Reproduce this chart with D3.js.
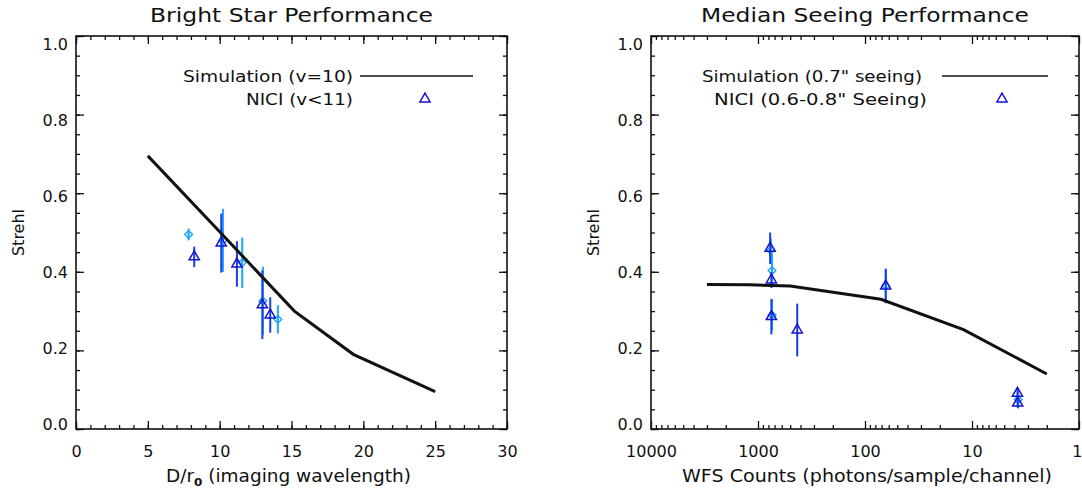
<!DOCTYPE html>
<html>
<head>
<meta charset="utf-8">
<script src="https://cdn.jsdelivr.net/npm/d3@7"></script>
<style>
  body { margin: 0; background: #fff; }
  svg { display: block; }
  text { font-family: "DejaVu Sans", sans-serif; fill: #111; }
</style>
</head>
<body>
<svg id="chart" width="1082" height="491"></svg>
<script>
// ---- left panel: bright star performance ----
var simDr0 = [5, 10, 15.2, 19.3, 25];
var simDr0Strehl = [0.695, 0.502, 0.30, 0.19, 0.095];

var niciDr0 = [8.23, 10.11, 11.2, 12.97, 13.52];
var niciDr0Strehl = [0.438, 0.473, 0.42, 0.316, 0.29];
var niciDr0Err = [0.026, 0.075, 0.058, 0.087, 0.045];

var altDr0 = [7.84, 10.23, 11.57, 13.01, 14.05];
var altDr0Strehl = [0.495, 0.48, 0.423, 0.326, 0.279];
var altDr0Err = [0.015, 0.08, 0.064, 0.087, 0.036];

// ---- right panel: median seeing performance ----
var simCounts = [3000, 1200, 500, 71, 12, 2];
var simCountsStrehl = [0.368, 0.367, 0.364, 0.33, 0.253, 0.14];

var niciCounts = [770, 750, 750, 430, 64, 3.76, 3.74];
var niciCountsStrehl = [0.46, 0.379, 0.286, 0.252, 0.364, 0.091, 0.066];
var niciCountsErr = [0.04, 0.02, 0.045, 0.067, 0.044, 0.012, 0.012];

var altCounts = [760, 740, 740, 64, 3.7];
var altCountsStrehl = [0.455, 0.403, 0.29, 0.364, 0.075];
var altCountsErr = [0.03, 0.043, 0.04, 0.04, 0.023];

var strehlTicks = [0, 0.2, 0.4, 0.6, 0.8, 1.0];
var dr0Ticks = [0, 5, 10, 15, 20, 25, 30];
var countTicks = [10000, 1000, 100, 10, 1];

var darkBlue = "#1414cc", barBlue = "#1a3ee6", lightBlue = "#1ea6ff";

var svg = d3.select("#chart");

function zip(xs, ys, es) {
  return xs.map(function(x, i) { return { x: x, y: ys[i], e: es ? es[i] : 0 }; });
}

function drawPanel(p) {
  var g = svg.append("g");
  var x = p.x, y = p.y;
  var top = y.range()[1], bottom = y.range()[0];
  var left = x.range()[0], right = x.range()[1];

  // minor ticks (no labels)
  g.append("g").attr("transform", "translate(0," + bottom + ")")
    .call(d3.axisBottom(x).tickValues(p.xMinor).tickSize(-4).tickFormat(""));
  g.append("g").attr("transform", "translate(0," + top + ")")
    .call(d3.axisTop(x).tickValues(p.xMinor).tickSize(-4).tickFormat(""));
  g.append("g").attr("transform", "translate(" + left + ",0)")
    .call(d3.axisLeft(y).tickValues(d3.range(0, 1.0001, 0.05)).tickSize(-4).tickFormat(""));
  g.append("g").attr("transform", "translate(" + right + ",0)")
    .call(d3.axisRight(y).tickValues(d3.range(0, 1.0001, 0.05)).tickSize(-4).tickFormat(""));

  // major ticks
  var xa = g.append("g").attr("transform", "translate(0," + bottom + ")")
    .call(d3.axisBottom(x).tickValues(p.xMajor).tickSize(-8).tickPadding(17).tickFormat(p.xFormat));
  g.append("g").attr("transform", "translate(0," + top + ")")
    .call(d3.axisTop(x).tickValues(p.xMajor).tickSize(-8).tickFormat(""));
  var ya = g.append("g").attr("transform", "translate(" + left + ",0)")
    .call(d3.axisLeft(y).tickValues(strehlTicks).tickSize(-8).tickPadding(8).tickFormat(d3.format(".1f")));
  g.append("g").attr("transform", "translate(" + right + ",0)")
    .call(d3.axisRight(y).tickValues(strehlTicks).tickSize(-8).tickFormat(""));

  g.selectAll(".domain").remove();
  g.selectAll(".tick line").attr("stroke", "#111").attr("stroke-width", 1.3);
  g.selectAll(".tick text").style("font-size", "16px").attr("fill", "#111");
  // labels sit a little inside the frame at both ends, as in the original
  ya.selectAll(".tick text").attr("y", function(v) { return -5 + 13 * v; });
  if (p.lastLabelEnd) {
    xa.selectAll(".tick text").filter(function(v, i, n) { return i === n.length - 1; })
      .attr("text-anchor", "end").attr("x", 3);
  }

  // frame
  g.append("rect").attr("x", left).attr("y", top)
    .attr("width", right - left).attr("height", bottom - top)
    .attr("fill", "none").attr("stroke", "#111").attr("stroke-width", 1.6);

  // title + axis labels
  g.append("text").attr("x", (left + right) / 2).attr("y", 22)
    .attr("text-anchor", "middle").style("font-size", "20px")
    .attr("textLength", p.titleLen).attr("lengthAdjust", "spacingAndGlyphs").text(p.title);
  var xl = g.append("text").attr("x", (left + right) / 2 + p.xLabelShift).attr("y", 482)
    .attr("text-anchor", "middle").style("font-size", "17px")
    .attr("textLength", p.xLabelLen).attr("lengthAdjust", "spacingAndGlyphs");
  p.xLabel(xl);
  g.append("text").attr("transform", "translate(" + (left - 52) + "," + ((top + bottom) / 2) + ") rotate(-90)")
    .attr("text-anchor", "middle").style("font-size", "16px").text("Strehl");

  // light blue measurements (error bars + diamonds)
  var alt = g.append("g");
  alt.selectAll("line").data(p.alt).enter().append("line")
    .attr("x1", function(d) { return x(d.x); }).attr("x2", function(d) { return x(d.x); })
    .attr("y1", function(d) { return y(d.y - d.e); }).attr("y2", function(d) { return y(d.y + d.e); })
    .attr("stroke", lightBlue).attr("stroke-width", 2);
  alt.selectAll("path").data(p.alt).enter().append("path")
    .attr("d", d3.symbol(d3.symbolSquare, 30))
    .attr("transform", function(d) { return "translate(" + x(d.x) + "," + y(d.y) + ") rotate(45)"; })
    .attr("fill", "none").attr("stroke", lightBlue).attr("stroke-width", 1.4);

  // NICI measurements (error bars + triangles)
  var nici = g.append("g");
  nici.selectAll("line").data(p.nici).enter().append("line")
    .attr("x1", function(d) { return x(d.x); }).attr("x2", function(d) { return x(d.x); })
    .attr("y1", function(d) { return y(d.y - d.e); }).attr("y2", function(d) { return y(d.y + d.e); })
    .attr("stroke", barBlue).attr("stroke-width", 2);
  nici.selectAll("path").data(p.nici).enter().append("path")
    .attr("d", d3.symbol(d3.symbolTriangle, 45))
    .attr("transform", function(d) { return "translate(" + x(d.x) + "," + y(d.y) + ")"; })
    .attr("fill", "none").attr("stroke", darkBlue).attr("stroke-width", 1.5);

  // simulation curve
  g.append("path").datum(p.sim)
    .attr("d", d3.line().x(function(d) { return x(d.x); }).y(function(d) { return y(d.y); }))
    .attr("fill", "none").attr("stroke", "#111").attr("stroke-width", 3);

  // legend
  var lg = p.legend;
  g.append("text").attr("x", lg.textX).attr("y", 82).attr("text-anchor", "end")
    .style("font-size", "16px").attr("textLength", lg.simLen).attr("lengthAdjust", "spacingAndGlyphs")
    .text(lg.simText);
  g.append("line").attr("x1", lg.lineX1).attr("x2", lg.lineX2).attr("y1", 76).attr("y2", 76)
    .attr("stroke", "#111").attr("stroke-width", 1.5);
  g.append("text").attr("x", lg.textX + lg.niciShift).attr("y", 105).attr("text-anchor", "end")
    .style("font-size", "16px").attr("textLength", lg.niciLen).attr("lengthAdjust", "spacingAndGlyphs")
    .text(lg.niciText);
  g.append("path").attr("d", d3.symbol(d3.symbolTriangle, 45))
    .attr("transform", "translate(" + lg.markX + ",99)")
    .attr("fill", "none").attr("stroke", darkBlue).attr("stroke-width", 1.5);
}

var yStrehl = d3.scaleLinear().domain([0, 1]).range([429, 36]);

drawPanel({
  x: d3.scaleLinear().domain([0, 30]).range([76, 507]),
  y: yStrehl,
  xMajor: dr0Ticks,
  xMinor: d3.range(0, 31, 1),
  xFormat: d3.format("d"),
  title: "Bright Star Performance",
  titleLen: 283,
  xLabelLen: 245,
  xLabelShift: -3,
  xLabel: function(t) {
    t.append("tspan").text("D/r");
    t.append("tspan").attr("dy", 4).style("font-size", "11px").style("font-weight", "bold").text("0");
    t.append("tspan").attr("dy", -4).text(" (imaging wavelength)");
  },
  sim: zip(simDr0, simDr0Strehl),
  nici: zip(niciDr0, niciDr0Strehl, niciDr0Err),
  alt: zip(altDr0, altDr0Strehl, altDr0Err),
  legend: { textX: 353, niciShift: 0, lineX1: 360, lineX2: 473, markX: 425,
            simLen: 170, niciLen: 107,
            simText: "Simulation (v=10)", niciText: "NICI (v<11)" }
});

var countMinor = [];
[1, 10, 100, 1000].forEach(function(k) {
  d3.range(2, 10).forEach(function(m) { countMinor.push(m * k); });
});

drawPanel({
  x: d3.scaleLog().domain([10000, 1]).range([651, 1079]),
  y: yStrehl,
  xMajor: countTicks,
  xMinor: countMinor,
  xFormat: d3.format("d"),
  lastLabelEnd: true,
  title: "Median Seeing Performance",
  titleLen: 328,
  xLabelLen: 370,
  xLabelShift: 2,
  xLabel: function(t) { t.text("WFS Counts (photons/sample/channel)"); },
  sim: zip(simCounts, simCountsStrehl),
  nici: zip(niciCounts, niciCountsStrehl, niciCountsErr),
  alt: zip(altCounts, altCountsStrehl, altCountsErr),
  legend: { textX: 922, niciShift: 5, lineX1: 942, lineX2: 1048, markX: 1002,
            simLen: 220, niciLen: 213,
            simText: "Simulation (0.7\" seeing)", niciText: "NICI (0.6-0.8\" Seeing)" }
});
</script>
</body>
</html>
